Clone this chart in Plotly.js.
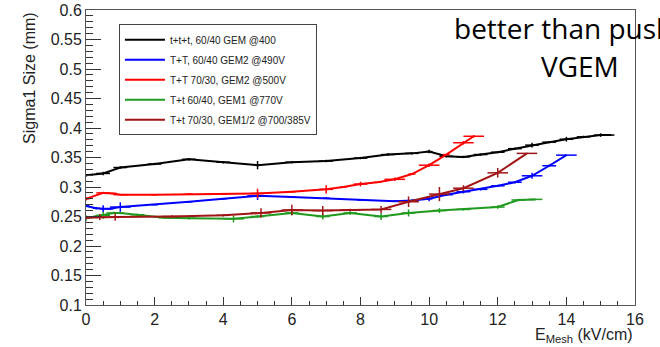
<!DOCTYPE html>
<html>
<head>
<meta charset="utf-8">
<script src="https://cdn.plot.ly/plotly-3.0.1.min.js"></script>
<style>
  html, body { margin: 0; padding: 0; background: #fff; }
  #chart { width: 660px; height: 347px; }
</style>
</head>
<body>
<div id="chart"></div>
<script>
// Sigma1 size vs. mesh field for the five GEM configurations
const seriesNames = [
  't+t+t, 60/40 GEM @400',
  'T+T, 60/40 GEM2 @490V',
  'T+T 70/30, GEM2 @500V',
  'T+t 60/40, GEM1 @770V',
  'T+t 70/30, GEM1/2 @700/385V'
];
const seriesColors = ['#000000', '#0000ff', '#ff0000', '#1f9a1f', '#a01515'];

// t+t+t, 60/40 GEM @400
const blackX  = [0, 0.5, 1, 2, 3, 4, 5, 6, 7, 8, 8.8, 9.5, 10, 10.5, 11, 11.5, 12, 12.5, 13, 13.5, 14, 14.5, 15, 15.3];
const blackY  = [0.320, 0.323, 0.333, 0.339, 0.347, 0.342, 0.337, 0.342, 0.344, 0.349, 0.355, 0.357, 0.360, 0.352, 0.351, 0.355, 0.359, 0.365, 0.371, 0.376, 0.381, 0.385, 0.388, 0.388];
const blackEX = [0.1, 0.2, 0.2, 0.2, 0.2, 0.2, 0.1, 0.2, 0.2, 0.2, 0.2, 0.2, 0.1, 0.2, 0.2, 0.2, 0.2, 0.2, 0.2, 0.2, 0.2, 0.2, 0.2, 0.1];
const blackEY = [0.002, 0.003, 0.002, 0.002, 0.002, 0.002, 0.007, 0.002, 0.002, 0.002, 0.002, 0.002, 0.003, 0.002, 0.002, 0.002, 0.002, 0.002, 0.004, 0.002, 0.004, 0.002, 0.003, 0.001];

// T+T, 60/40 GEM2 @490V
const blueX  = [0, 0.3, 0.5, 0.7, 1, 2, 3, 4, 5, 6, 7, 8, 9, 9.5, 10, 10.5, 11, 11.5, 12, 12.5, 13, 13.5, 14];
const blueY  = [0.268, 0.264, 0.263, 0.263, 0.266, 0.270, 0.275, 0.280, 0.285, 0.283, 0.281, 0.278, 0.276, 0.277, 0.280, 0.287, 0.292, 0.296, 0.302, 0.308, 0.319, 0.336, 0.354];
const blueEX = [0.1, 0.1, 0.1, 0.1, 0.3, 0.1, 0.1, 0.1, 0.3, 0.1, 0.1, 0.1, 0.1, 0.1, 0.1, 0.2, 0.2, 0.2, 0.2, 0.2, 0.3, 0.2, 0.3];
const blueEY = [0.002, 0.002, 0.006, 0.002, 0.008, 0.001, 0.001, 0.001, 0.007, 0.001, 0.001, 0.001, 0.001, 0.002, 0.004, 0.002, 0.003, 0.002, 0.002, 0.002, 0.005, 0.002, 0.001];

// T+T 70/30, GEM2 @500V
const redX  = [0, 0.5, 0.8, 1, 2, 3, 4, 5, 6, 7, 7.5, 8, 8.5, 9, 9.5, 10, 10.5, 11, 11.3];
const redY  = [0.280, 0.290, 0.289, 0.287, 0.287, 0.288, 0.288, 0.289, 0.292, 0.296, 0.300, 0.305, 0.308, 0.313, 0.322, 0.337, 0.355, 0.375, 0.386];
const redEX = [0.1, 0.2, 0.1, 0.2, 0.1, 0.1, 0.1, 0.2, 0.1, 0.2, 0.1, 0.2, 0.1, 0.3, 0.1, 0.3, 0.1, 0.3, 0.3];
const redEY = [0.003, 0.002, 0.001, 0.001, 0.001, 0.001, 0.001, 0.008, 0.001, 0.007, 0.001, 0.004, 0.001, 0.003, 0.001, 0.003, 0.001, 0.003, 0.002];

// T+t 60/40, GEM1 @770V
const greenX  = [0, 0.3, 0.5, 0.8, 1, 1.5, 2.3, 3, 4.3, 5, 6, 6.9, 7.7, 8.6, 9.4, 10.3, 11, 12, 12.6, 13.1];
const greenY  = [0.247, 0.250, 0.252, 0.256, 0.256, 0.253, 0.248, 0.247, 0.246, 0.250, 0.256, 0.250, 0.256, 0.250, 0.256, 0.260, 0.262, 0.266, 0.278, 0.279];
const greenEX = [0.1, 0.1, 0.2, 0.2, 0.1, 0.2, 0.2, 0.2, 0.3, 0.2, 0.2, 0.2, 0.2, 0.2, 0.2, 0.2, 0.2, 0.2, 0.2, 0.2];
const greenEY = [0.005, 0.002, 0.006, 0.002, 0.002, 0.002, 0.002, 0.002, 0.006, 0.002, 0.004, 0.005, 0.003, 0.006, 0.006, 0.004, 0.002, 0.003, 0.002, 0.001];

// T+t 70/30, GEM1/2 @700/385V
const brownX  = [0, 0.4, 0.85, 2.5, 4, 5.1, 6, 6.9, 7.7, 8.6, 9.4, 10.3, 11, 12, 12.85];
const brownY  = [0.248, 0.249, 0.249, 0.250, 0.252, 0.256, 0.261, 0.260, 0.261, 0.262, 0.275, 0.288, 0.298, 0.324, 0.357];
const brownEX = [0.1, 0.2, 0.2, 0.3, 0.2, 0.3, 0.3, 0.3, 0.3, 0.3, 0.3, 0.3, 0.3, 0.3, 0.3];
const brownEY = [0.002, 0.005, 0.006, 0.002, 0.002, 0.008, 0.009, 0.008, 0.002, 0.006, 0.009, 0.012, 0.005, 0.008, 0.001];

// y-axis tick labels
const yTickVals = [0.1, 0.15, 0.2, 0.25, 0.3, 0.35, 0.4, 0.45, 0.5, 0.55, 0.6];
const yTickText = ['0.1', '0.15', '0.2', '0.25', '0.3', '0.35', '0.4', '0.45', '0.5', '0.55', '0.6'];

const seriesData = [
  [blackX, blackY, blackEX, blackEY],
  [blueX, blueY, blueEX, blueEY],
  [redX, redY, redEX, redEY],
  [greenX, greenY, greenEX, greenEY],
  [brownX, brownY, brownEX, brownEY]
];

const traces = seriesData.map(([x, y, ex, ey], i) => ({
  type: 'scatter',
  mode: 'lines',
  name: seriesNames[i],
  legendgroup: 'g' + i,
  x: x,
  y: y,
  line: { color: seriesColors[i], width: 2 },
  error_x: { type: 'data', array: ex, visible: true, color: seriesColors[i], thickness: 1.5, width: 0 },
  error_y: { type: 'data', array: ey, visible: true, color: seriesColors[i], thickness: 1.5, width: 0 }
}));

const rootFont = 'Liberation Sans, Arial, Helvetica, sans-serif';

const layout = {
  width: 660,
  height: 347,
  margin: { l: 86, r: 25, t: 10, b: 42 },
  paper_bgcolor: '#ffffff',
  plot_bgcolor: '#ffffff',
  showlegend: true,
  legend: {
    x: 0.06, y: 0.952, xanchor: 'left', yanchor: 'top',
    bgcolor: '#ffffff', bordercolor: '#444', borderwidth: 1,
    font: { family: rootFont, size: 10, color: '#222' },
    traceorder: 'grouped', tracegroupgap: 1,
    itemwidth: 40
  },
  xaxis: {
    range: [0, 16],
    tickvals: [0, 2, 4, 6, 8, 10, 12, 14, 16],
    ticks: 'inside', ticklen: 8, tickwidth: 1, tickcolor: '#333',
    minor: { dtick: 0.5, tick0: 0, ticks: 'inside', ticklen: 4, tickcolor: '#333', showgrid: false },
    showline: true, linecolor: '#555', linewidth: 1, mirror: true,
    showgrid: false, zeroline: false,
    tickfont: { family: rootFont, size: 16, color: '#222' }
  },
  yaxis: {
    range: [0.1, 0.6],
    tickvals: yTickVals, ticktext: yTickText,
    ticks: 'inside', ticklen: 15, tickwidth: 1, tickcolor: '#333',
    minor: { dtick: 0.01, tick0: 0.1, ticks: 'inside', ticklen: 7, tickcolor: '#333', showgrid: false },
    showline: true, linecolor: '#555', linewidth: 1, mirror: true,
    showgrid: false, zeroline: false,
    tickfont: { family: rootFont, size: 16, color: '#222' }
  },
  annotations: [
    {
      text: 'Sigma1 Size (mm)', textangle: -90,
      xref: 'paper', yref: 'paper', x: -0.104, y: 1,
      xanchor: 'center', yanchor: 'top', showarrow: false,
      font: { family: rootFont, size: 16, color: '#222' }
    },
    {
      text: 'E<sub>Mesh</sub> (kV/cm)',
      xref: 'paper', yref: 'paper', x: 1, y: -0.104,
      xanchor: 'right', yanchor: 'middle', showarrow: false,
      font: { family: rootFont, size: 16, color: '#222' }
    },
    {
      text: 'better than push',
      xref: 'paper', yref: 'paper', x: (452 - 86) / 549, y: (305 - 28) / 295,
      xanchor: 'left', yanchor: 'middle', showarrow: false,
      font: { family: 'Open Sans, sans-serif', size: 28, color: '#000' }
    },
    {
      text: 'VGEM',
      xref: 'paper', yref: 'paper', x: (580 - 86) / 549, y: (305 - 66) / 295,
      xanchor: 'center', yanchor: 'middle', showarrow: false,
      font: { family: 'Open Sans, sans-serif', size: 28, color: '#000' }
    }
  ]
};

Plotly.newPlot('chart', traces, layout, { staticPlot: true, displayModeBar: false });
</script>
</body>
</html>
